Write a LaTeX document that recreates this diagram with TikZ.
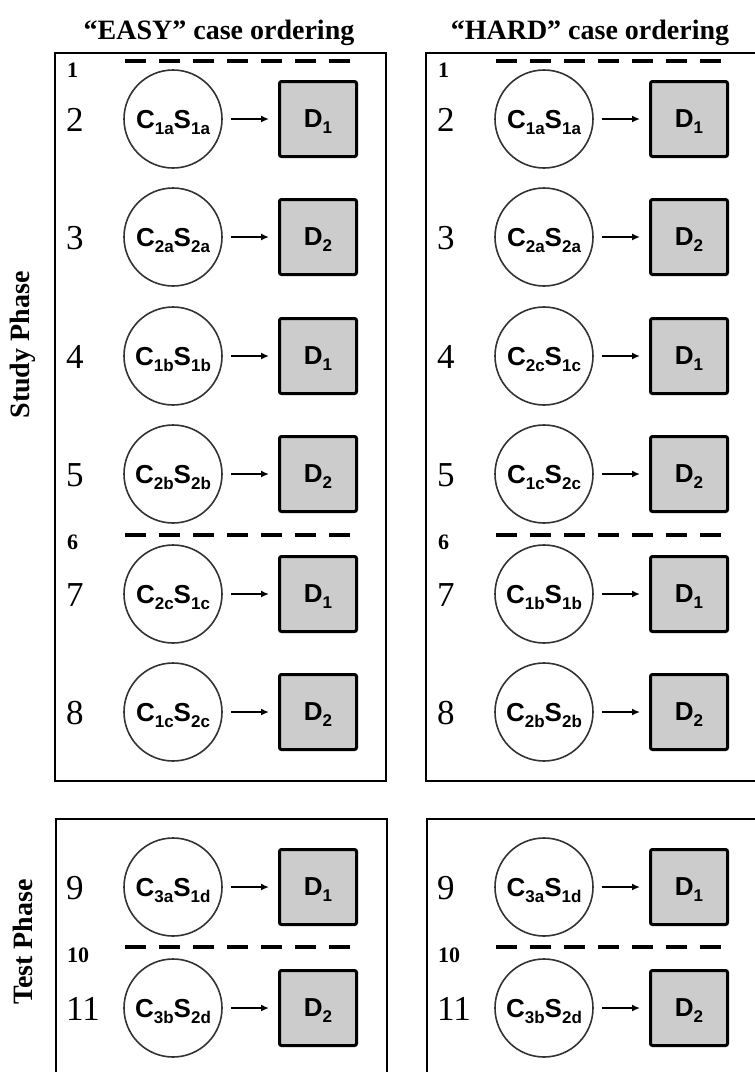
\documentclass[tikz,border=0pt]{standalone}
\usepackage{fontspec}
\setmainfont{Liberation Serif}
\newfontfamily\lsans{Liberation Sans}
\usetikzlibrary{arrows.meta}
\definecolor{dfill}{gray}{0.8}
\definecolor{cline}{gray}{0.2}
\newcommand\lsub[1]{{\fontsize{17}{17}\selectfont\raisebox{-6pt}{#1}}}
\newcommand\caserow[7]{%
  \node[bignum] (n#1) at (66+#2,#3+12) {#4};
  \node[cnode] (c#1) at (173+#2,#3) {C\lsub{#5}S\lsub{#6}};
  \node[dnode] (d#1) at (318+#2,#3) {D\lsub{#7}};
  \draw[arr] (c#1) -- (d#1);
}
\begin{document}
\begin{tikzpicture}[x=1pt,y=-1pt,
  panel/.style={draw=black,line width=2.5pt},
  dashline/.style={line width=4.5pt,dash pattern=on 21pt off 13pt},
  bignum/.style={anchor=base west,font=\fontsize{35}{35}\selectfont,inner sep=0pt},
  smallnum/.style={anchor=base west,font=\bfseries\fontsize{22}{22}\selectfont,inner sep=0pt},
  cnode/.style={circle,draw=cline,line width=1.6pt,minimum size=98pt,inner sep=0pt,text depth=0pt,font=\lsans\bfseries\fontsize{26}{26}\selectfont},
  dnode/.style={rectangle,draw=black,fill=dfill,line width=3pt,rounded corners=2pt,minimum width=77pt,minimum height=75pt,inner sep=0pt,text depth=0pt,font=\lsans\bfseries\fontsize{26}{26}\selectfont},
  arr/.style={line width=2.2pt,-{Latex[length=8pt,width=7pt]},shorten <=8pt,shorten >=9pt},
  title/.style={font=\bfseries\fontsize{28}{28}\selectfont,anchor=base,inner sep=0pt},
  side/.style={font=\bfseries\fontsize{28}{28}\selectfont,rotate=90,inner sep=0pt}
]
\useasboundingbox (0,0) rectangle (755,1072);
\clip (0,0) rectangle (755,1072);
\fill[white] (0,0) rectangle (755,1072);

% titles
\node[title] (tEasy) at (219,39) {“EASY” case ordering};
\node[title] (tHard) at (590,39) {“HARD” case ordering};
\node[side] (sStudy) at (23,345) {Study Phase};
\node[side] (sTest) at (23,942) {Test Phase};

% panels
\draw[panel] (55,53) rectangle (386,781);
\draw[panel] (426,53) rectangle (775,781);
\draw[panel] (56,819) rectangle (387,1090);
\draw[panel] (427,819) rectangle (775,1090);

% dashed separators and small numbers
\foreach \xo in {0,371}{
  \draw[dashline] (125+\xo,61) -- (350+\xo,61);
  \draw[dashline] (125+\xo,535) -- (350+\xo,535);
  \draw[dashline] (125+\xo,947) -- (350+\xo,947);
}
\node[smallnum] (nL1) at (67,77) {1};
\node[smallnum] (nL6) at (67,549) {6};
\node[smallnum] (nL10) at (67,962) {10};
\node[smallnum] (nR1) at (438,77) {1};
\node[smallnum] (nR6) at (438,549) {6};
\node[smallnum] (nR10) at (438,962) {10};

% EASY rows
\caserow{L2}{0}{119}{2}{1a}{1a}{1}
\caserow{L3}{0}{237}{3}{2a}{2a}{2}
\caserow{L4}{0}{356}{4}{1b}{1b}{1}
\caserow{L5}{0}{474}{5}{2b}{2b}{2}
\caserow{L7}{0}{594}{7}{2c}{1c}{1}
\caserow{L8}{0}{712}{8}{1c}{2c}{2}
\caserow{L9}{0}{887}{9}{3a}{1d}{1}
\caserow{L11}{0}{1008}{11}{3b}{2d}{2}

% HARD rows
\caserow{R2}{371}{119}{2}{1a}{1a}{1}
\caserow{R3}{371}{237}{3}{2a}{2a}{2}
\caserow{R4}{371}{356}{4}{2c}{1c}{1}
\caserow{R5}{371}{474}{5}{1c}{2c}{2}
\caserow{R7}{371}{594}{7}{1b}{1b}{1}
\caserow{R8}{371}{712}{8}{2b}{2b}{2}
\caserow{R9}{371}{887}{9}{3a}{1d}{1}
\caserow{R11}{371}{1008}{11}{3b}{2d}{2}
\end{tikzpicture}
\end{document}
